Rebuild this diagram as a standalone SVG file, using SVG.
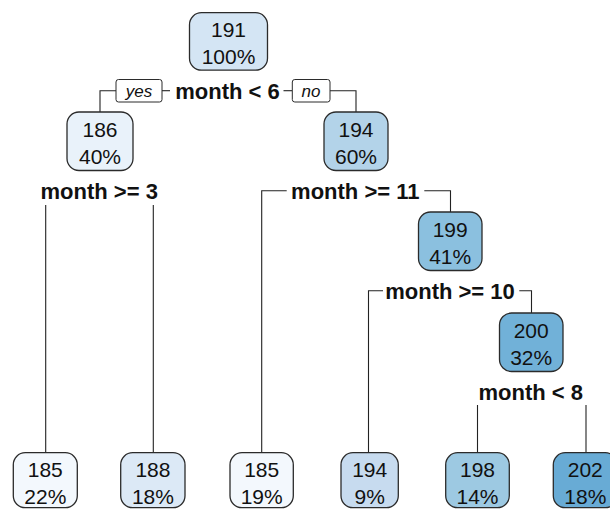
<svg xmlns="http://www.w3.org/2000/svg" width="610" height="509" viewBox="0 0 610 509">
<style>
.box{stroke:#2b2b2b;stroke-width:1.3}
.nt{font-family:"Liberation Sans",Arial,sans-serif;font-size:21px;fill:#111;text-anchor:middle}
.split{font-family:"Liberation Sans",Arial,sans-serif;font-size:22px;font-weight:bold;fill:#111;text-anchor:middle}
.lab{font-family:"Liberation Sans",Arial,sans-serif;font-size:17px;font-style:italic;fill:#111;text-anchor:middle}
.lbox{fill:#fff;stroke:#2b2b2b;stroke-width:1}
.conn{fill:none;stroke:#222;stroke-width:1.1}
</style>
<rect width="610" height="509" fill="#fff"/>
<g id="connectors">
<polyline class="conn" points="116,90.7 100,90.7 100,112"/>
<line class="conn" x1="162" y1="90.7" x2="170" y2="90.7"/>
<line class="conn" x1="283.5" y1="90.7" x2="292" y2="90.7"/>
<polyline class="conn" points="330,90.7 356,90.7 356,112"/>
<line class="conn" x1="45.7" y1="205" x2="45.7" y2="453"/>
<line class="conn" x1="153.3" y1="205" x2="153.3" y2="453"/>
<polyline class="conn" points="286.7,190.7 261.7,190.7 261.7,453"/>
<polyline class="conn" points="424.3,190.7 450.5,190.7 450.5,212"/>
<polyline class="conn" points="383,290.7 368.5,290.7 368.5,453"/>
<polyline class="conn" points="519.3,290.7 531.5,290.7 531.5,313"/>
<line class="conn" x1="477.5" y1="405" x2="477.5" y2="453"/>
<line class="conn" x1="586" y1="405" x2="586" y2="453"/>
</g>
<g id="edge-labels">
<rect class="lbox" x="116" y="79.5" width="46" height="22.5" rx="2.5"/>
<text class="lab" x="139" y="96.5">yes</text>
<rect class="lbox" x="292.3" y="79.5" width="37.7" height="22.5" rx="2.5"/>
<text class="lab" x="311" y="96.5">no</text>
</g>
<g id="split-labels">
<text class="split" x="227.5" y="98.5">month &lt; 6</text>
<text class="split" x="99.2" y="199">month &gt;= 3</text>
<text class="split" x="355.3" y="199">month &gt;= 11</text>
<text class="split" x="450" y="298.5">month &gt;= 10</text>
<text class="split" x="530.8" y="399.5">month &lt; 8</text>
</g>
<g id="node1">
<rect class="box" x="189.5" y="12.7" width="78" height="57.5" rx="12" fill="#d4e5f4"/>
<text class="nt" x="228.5" y="37">191</text>
<text class="nt" x="228.5" y="64">100%</text>
</g>
<g id="node2">
<rect class="box" x="67" y="112" width="66" height="58.5" rx="12" fill="#e9f2fa"/>
<text class="nt" x="100" y="136.5">186</text>
<text class="nt" x="100" y="164">40%</text>
</g>
<g id="node3">
<rect class="box" x="324" y="112" width="64" height="58.5" rx="12" fill="#b3d3e9"/>
<text class="nt" x="356" y="136.5">194</text>
<text class="nt" x="356" y="164">60%</text>
</g>
<g id="node7">
<rect class="box" x="418.5" y="212" width="63.5" height="58.5" rx="12" fill="#8bc0df"/>
<text class="nt" x="450.2" y="236.5">199</text>
<text class="nt" x="450.2" y="264">41%</text>
</g>
<g id="node15">
<rect class="box" x="499.5" y="313" width="63.5" height="58.5" rx="12" fill="#71b1d8"/>
<text class="nt" x="531.2" y="337.5">200</text>
<text class="nt" x="531.2" y="365">32%</text>
</g>
<g id="leaf4">
<rect class="box" x="13.3" y="452.7" width="64" height="55" rx="12" fill="#f3f8fd"/>
<text class="nt" x="45.3" y="477">185</text>
<text class="nt" x="45.3" y="504">22%</text>
</g>
<g id="leaf5">
<rect class="box" x="120.7" y="452.7" width="64.3" height="55" rx="12" fill="#dce9f6"/>
<text class="nt" x="152.9" y="477">188</text>
<text class="nt" x="152.9" y="504">18%</text>
</g>
<g id="leaf6">
<rect class="box" x="230" y="452.7" width="63.3" height="55" rx="12" fill="#f3f8fd"/>
<text class="nt" x="261.7" y="477">185</text>
<text class="nt" x="261.7" y="504">19%</text>
</g>
<g id="leaf14">
<rect class="box" x="341" y="452.7" width="57.3" height="55" rx="12" fill="#c7dbef"/>
<text class="nt" x="369.7" y="477">194</text>
<text class="nt" x="369.7" y="504">9%</text>
</g>
<g id="leaf30">
<rect class="box" x="445.7" y="452.7" width="63.6" height="55" rx="12" fill="#9dc9e2"/>
<text class="nt" x="477.5" y="477">198</text>
<text class="nt" x="477.5" y="504">14%</text>
</g>
<g id="leaf31">
<rect class="box" x="553.3" y="452.7" width="64" height="55" rx="12" fill="#68abd5"/>
<text class="nt" x="585.3" y="477">202</text>
<text class="nt" x="585.3" y="504">18%</text>
</g>
</svg>
